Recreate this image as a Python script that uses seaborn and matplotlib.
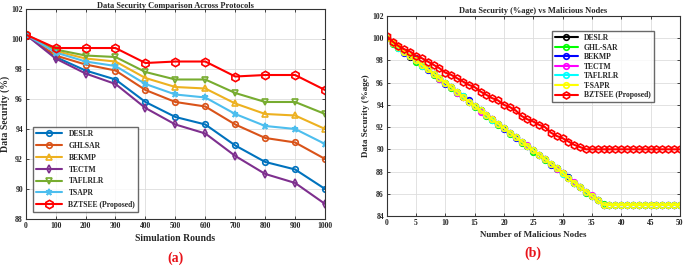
import numpy as np
import pandas as pd
import matplotlib
matplotlib.use("Agg")
import matplotlib.pyplot as plt
import seaborn as sns

# ---- panel (a): data security vs simulation rounds ----
rounds = [0, 100, 200, 300, 400, 500, 600, 700, 800, 900, 1000]
sec_a = {
    "DESLR":   [100.3, 98.8, 97.9, 97.3, 95.8, 94.8, 94.3, 92.9, 91.8, 91.3, 90.0],
    "GHLSAR":  [100.3, 98.9, 98.3, 97.9, 96.6, 95.8, 95.5, 94.3, 93.4, 93.1, 92.0],
    "BEKMP":   [100.3, 99.2, 98.7, 98.5, 97.4, 96.8, 96.7, 95.7, 95.0, 94.9, 94.0],
    "TECTM":   [100.3, 98.7, 97.7, 97.0, 95.4, 94.3, 93.7, 92.2, 91.0, 90.4, 89.0],
    "TAFLRLR": [100.3, 99.3, 98.9, 98.8, 97.8, 97.3, 97.3, 96.4, 95.8, 95.8, 95.0],
    "TSAPR":   [100.3, 99.1, 98.5, 98.2, 97.0, 96.3, 96.1, 95.0, 94.2, 94.0, 93.0],
    "BZTSEE (Proposed)": [100.3, 99.4, 99.4, 99.4, 98.4, 98.5, 98.5, 97.5, 97.6, 97.6, 96.6],
}

# ---- panel (b): data security vs malicious nodes ----
nodes = list(range(0, 51))
flat85 = [85.0] * 13
deslr_b = [100.0, 99.6, 99.2, 98.8, 98.3, 98.0, 97.6, 97.2, 96.8, 96.4,
           96.0, 95.6, 95.2, 94.7, 94.3, 93.9, 93.5, 93.1, 92.7, 92.3,
           91.9, 91.5, 91.1, 90.7, 90.3, 89.9, 89.5, 89.1, 88.7, 88.3,
           87.9, 87.4, 87.0, 86.6, 86.2, 85.8, 85.4, 85.0] + flat85
ghl_b = [100.0, 99.5, 99.1, 98.8, 98.4, 97.9, 97.5, 97.2, 96.7, 96.3,
         96.0, 95.5, 95.1, 94.8, 94.3, 93.8, 93.5, 93.0, 92.6, 92.2,
         91.9, 91.4, 91.1, 90.6, 90.3, 89.8, 89.5, 89.0, 88.7, 88.2,
         87.9, 87.5, 87.0, 86.6, 86.1, 85.8, 85.4, 85.1] + flat85
bekmp_b = [100.0, 99.6, 99.2, 98.7, 98.4, 98.2, 97.6, 97.1, 96.8, 96.4,
           95.9, 95.6, 95.2, 94.7, 94.4, 93.9, 93.5, 93.1, 92.7, 92.3,
           91.8, 91.5, 91.0, 90.7, 90.3, 89.9, 89.5, 89.1, 88.6, 88.3,
           87.9, 87.5, 87.0, 86.6, 86.2, 85.8, 85.4, 85.0] + flat85
tectm_b = [100.0, 99.6, 99.2, 98.8, 98.4, 98.0, 97.6, 97.2, 96.8, 96.3,
           96.0, 95.6, 95.1, 94.7, 94.3, 93.9, 93.4, 93.1, 92.7, 92.3,
           91.9, 91.5, 91.1, 90.7, 90.4, 89.9, 89.5, 89.1, 88.7, 88.2,
           87.9, 87.4, 87.1, 86.6, 86.2, 85.9, 85.4, 85.0] + flat85
tafl_b = [100.0, 99.6, 99.1, 98.8, 98.4, 98.0, 97.5, 97.2, 96.8, 96.4,
          96.0, 95.6, 95.2, 94.8, 94.3, 93.9, 93.5, 93.1, 92.6, 92.3,
          91.9, 91.5, 91.1, 90.7, 90.3, 89.9, 89.5, 89.1, 88.7, 88.3,
          87.8, 87.4, 87.0, 86.6, 86.2, 85.8, 85.4, 85.0] + flat85
tsapr_b = [100.0, 99.6, 99.2, 98.8, 98.4, 98.0, 97.6, 97.2, 96.8, 96.4,
           96.0, 95.6, 95.2, 94.7, 94.3, 93.9, 93.5, 93.1, 92.7, 92.3,
           91.9, 91.5, 91.1, 90.7, 90.3, 89.9, 89.5, 89.1, 88.7, 88.3,
           87.9, 87.4, 87.0, 86.6, 86.2, 85.8, 85.4, 85.0] + flat85
bztsee_b = [100.2, 99.7, 99.3, 99.0, 98.8, 98.4, 98.2, 97.9, 97.6, 97.3,
            96.9, 96.7, 96.4, 96.1, 95.8, 95.6, 95.2, 94.9, 94.6, 94.4,
            94.0, 93.8, 93.5, 93.0, 92.7, 92.5, 92.2, 92.0, 91.5, 91.2,
            91.0, 90.7, 90.4, 90.2, 90.0] + [90.0] * 16
sec_b = {
    "DESLR": deslr_b, "GHL-SAR": ghl_b, "BEKMP": bekmp_b, "TECTM": tectm_b,
    "TAFLRLR": tafl_b, "T-SAPR": tsapr_b, "BZTSEE (Proposed)": bztsee_b,
}

sns.set_style("ticks")
plt.rcParams["font.family"] = ["Liberation Serif", "DejaVu Serif"]
plt.rcParams["font.weight"] = "bold"

fig = plt.figure(figsize=(6.85, 2.66), dpi=100)
ax1 = fig.add_axes([0.0375, 0.177, 0.437, 0.789])
ax2 = fig.add_axes([0.5645, 0.188, 0.428, 0.752])

# panel a
style_a = {
    "DESLR": ("#0072BD", "o", 4),
    "GHLSAR": ("#D95319", "o", 4),
    "BEKMP": ("#EDB120", "^", 4),
    "TECTM": ("#7E2F8E", "d", 4),
    "TAFLRLR": ("#77AC30", "v", 4),
    "TSAPR": ("#4DBEEE", "*", 4.5),
    "BZTSEE (Proposed)": ("#FF0000", "h", 6),
}
for name, vals in sec_a.items():
    c, m, ms = style_a[name]
    df = pd.DataFrame({"x": rounds, "y": vals})
    sns.lineplot(data=df, x="x", y="y", ax=ax1, color=c, marker=m, markersize=ms,
                 markerfacecolor="none", markeredgecolor=c, markeredgewidth=1.2,
                 linewidth=1.5, label=name)

ax1.set_xlim(0, 1000)
ax1.set_ylim(88, 102)
ax1.set_xticks(rounds)
ax1.set_yticks(np.arange(88, 103, 2))
ax1.set_title("Data Security Comparison Across Protocols", fontsize=6, fontweight="bold", pad=1)
ax1.set_xlabel("Simulation Rounds", fontsize=7, fontweight="bold", labelpad=3)
ax1.set_ylabel("Data Security (%)", fontsize=7, fontweight="bold", labelpad=1)
ax1.legend(loc="lower left", fontsize=5.5, frameon=True, fancybox=False,
           edgecolor="#444444", handlelength=3.5, borderaxespad=0.9, labelspacing=0.5)
ax1.text(0.5, -0.186, "(a)", transform=ax1.transAxes, ha="center", va="center",
         color="#E8141B", fontsize=10, fontweight="bold")

# panel b
colors_b = {
    "DESLR": "black", "GHL-SAR": "#00FF00", "BEKMP": "#0000FF", "TECTM": "#FF00FF",
    "TAFLRLR": "#00FFFF", "T-SAPR": "#FFFF00", "BZTSEE (Proposed)": "#FF0000",
}
for name, vals in sec_b.items():
    c = colors_b[name]
    red = name.startswith("BZTSEE")
    df = pd.DataFrame({"x": nodes, "y": vals})
    sns.lineplot(data=df, x="x", y="y", ax=ax2, color=c, marker="h" if red else "o",
                 markersize=5 if red else 4, markerfacecolor="none", markeredgecolor=c,
                 markeredgewidth=1.2, linewidth=1.5, label=name)

ax2.set_xlim(0, 50)
ax2.set_ylim(84, 102)
ax2.set_xticks(np.arange(0, 51, 5))
ax2.set_yticks(np.arange(84, 103, 2))
ax2.set_title("Data Security (%age) vs Malicious Nodes", fontsize=6, fontweight="bold", pad=2)
ax2.set_xlabel("Number of Malicious Nodes", fontsize=6.5, fontweight="bold", labelpad=3)
ax2.set_ylabel("Data Security (%age)", fontsize=6.5, fontweight="bold", labelpad=2)
ax2.legend(loc="upper right", bbox_to_anchor=(0.911, 0.925), borderaxespad=0,
           fontsize=5.5, frameon=True, fancybox=False, edgecolor="#444444",
           handlelength=3.0, labelspacing=0.2, borderpad=0.4)
ax2.text(0.5, -0.185, "(b)", transform=ax2.transAxes, ha="center", va="center",
         color="#E8141B", fontsize=10, fontweight="bold")

for ax in (ax1, ax2):
    ax.grid(True, color="#DDDDDD", linewidth=0.6)
    ax.tick_params(direction="in", labelsize=5.5, length=2, width=0.6, pad=2,
                   top=True, right=True)
    for lab in ax.get_xticklabels() + ax.get_yticklabels():
        lab.set_fontweight("bold")
    for s in ax.spines.values():
        s.set_color("#333333")
        s.set_linewidth(0.8)

fig.savefig("out.png", dpi=100)
